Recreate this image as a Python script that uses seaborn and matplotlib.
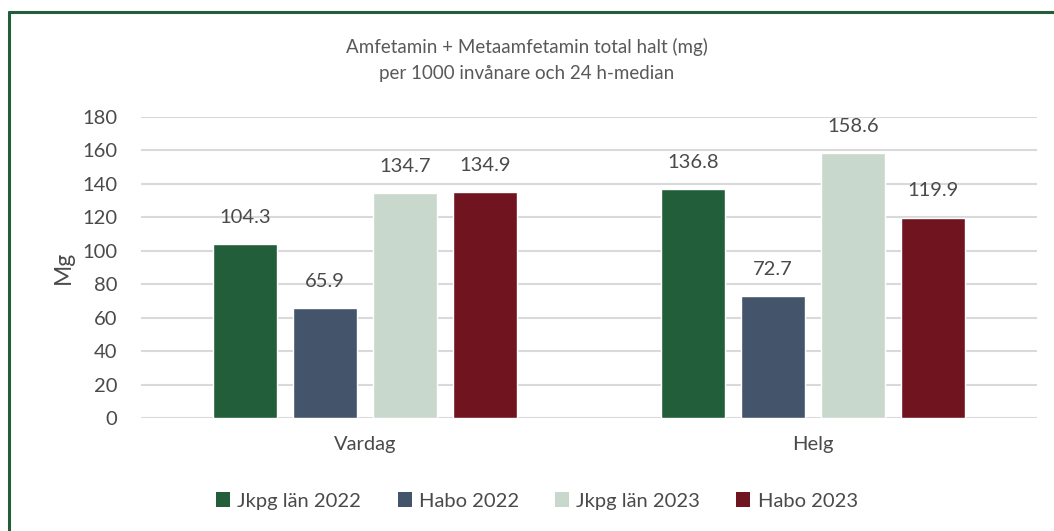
import matplotlib
matplotlib.use("Agg")
import matplotlib.pyplot as plt
import seaborn as sns
import pandas as pd
from matplotlib.patches import Rectangle
from matplotlib.lines import Line2D

categories = ["Vardag", "Helg"]
series = ["Jkpg län 2022", "Habo 2022", "Jkpg län 2023", "Habo 2023"]
values = {
    "Jkpg län 2022": [104.3, 136.8],
    "Habo 2022": [65.9, 72.7],
    "Jkpg län 2023": [134.7, 158.6],
    "Habo 2023": [134.9, 119.9],
}
colors = ["#225E3A", "#44546A", "#C9D8CC", "#70141F"]
yticks = [0, 20, 40, 60, 80, 100, 120, 140, 160, 180]

rows = []
for s in series:
    for c, v in zip(categories, values[s]):
        rows.append({"Dag": c, "Serie": s, "Mg": v})
df = pd.DataFrame(rows)

sns.set_theme(style="white")
plt.rcParams["font.family"] = ["Lato", "DejaVu Sans"]
text_color = "#4A4A4A"

fig = plt.figure(figsize=(10.54, 5.31), dpi=100)
ax = fig.add_axes([141 / 1054, 1 - 418 / 531, (1037 - 141) / 1054, (418 - 117) / 531])

sns.barplot(data=df, x="Dag", y="Mg", hue="Serie", hue_order=series,
            palette=colors, width=0.714, gap=0.19, saturation=1,
            legend=False, ax=ax, zorder=3)

ax.set_ylim(0, 180)
ax.set_xlim(-0.5, 1.5)
ax.set_yticks(yticks)
ax.yaxis.grid(True, color="#D9D9D9", linewidth=1.5, zorder=0)
ax.set_axisbelow(True)
for sp in ax.spines.values():
    sp.set_visible(False)
ax.tick_params(axis="both", length=0, labelsize=14.5, colors=text_color)
ax.tick_params(axis="y", pad=17)
ax.tick_params(axis="x", pad=13)
ax.set_xlabel("")
ax.set_ylabel("Mg", fontsize=16.5, color=text_color, labelpad=6)

for cont in ax.containers:
    for bar in cont:
        h = bar.get_height()
        ax.annotate(f"{h:.1f}", (bar.get_x() + bar.get_width() / 2, h),
                    xytext=(0, 13), textcoords="offset points",
                    ha="center", va="bottom", fontsize=14.5, color=text_color)

fig.text(0.5, 1 - 47 / 531, "Amfetamin + Metaamfetamin total halt (mg)",
         ha="center", va="center", fontsize=13.5, color="#595959")
fig.text(0.5, 1 - 73 / 531, "per 1000 invånare och 24 h-median",
         ha="center", va="center", fontsize=13.5, color="#595959")

handles = [Rectangle((0, 0), 1, 1, facecolor=c, edgecolor="none") for c in colors]
fig.legend(handles, series, loc="center", bbox_to_anchor=(537 / 1054, 1 - 501 / 531),
           ncol=4, frameon=False, fontsize=14.5, handlelength=0.7, handleheight=0.7,
           handletextpad=0.35, columnspacing=1.8, labelcolor=text_color)

# frame along the left and top edges
fig.add_artist(Line2D([9 / 1054, 9 / 1054], [0, 1 - 12 / 531], color="#225E3A",
                      linewidth=2.2, transform=fig.transFigure))
fig.add_artist(Line2D([9 / 1054, 1], [1 - 12 / 531, 1 - 12 / 531], color="#225E3A",
                      linewidth=2.2, transform=fig.transFigure))

fig.savefig("out.png", dpi=100)
